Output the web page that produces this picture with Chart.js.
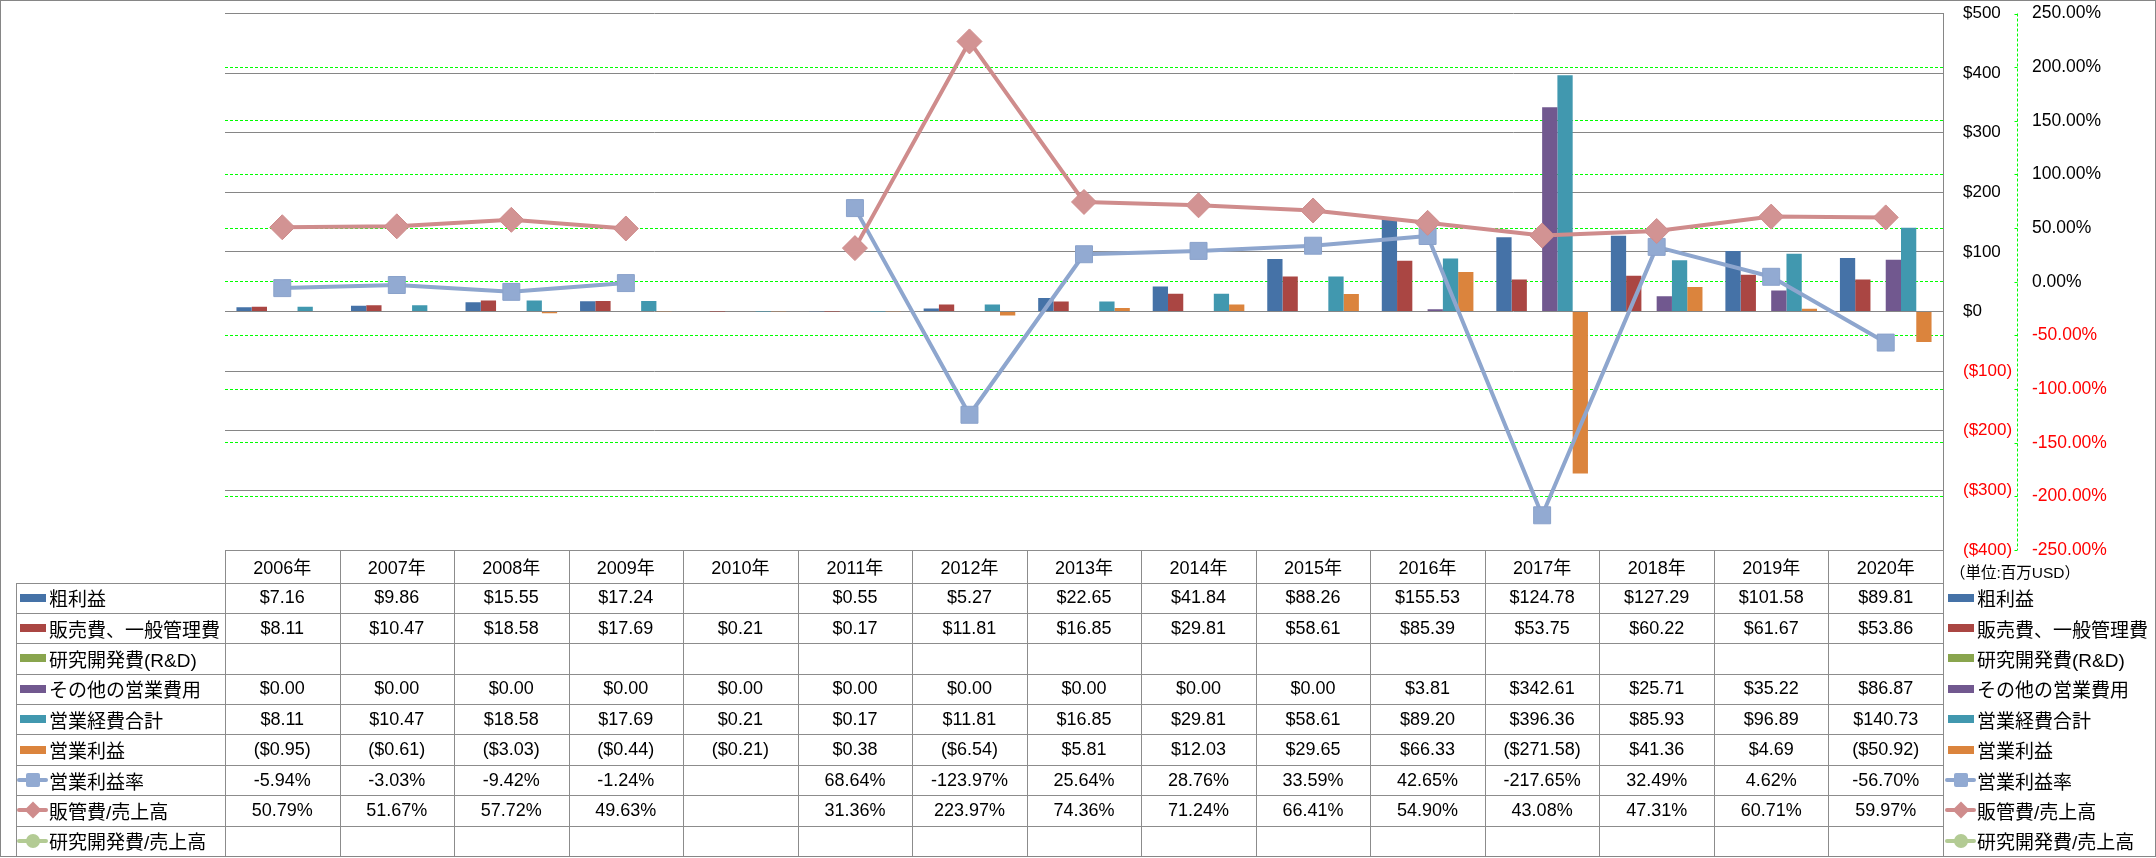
<!DOCTYPE html>
<html><head><meta charset="utf-8">
<script src="https://cdn.jsdelivr.net/npm/chart.js@4/dist/chart.umd.min.js"></script>
<style>
html,body{margin:0;padding:0;background:#fff;}
#wrap{position:relative;width:2156px;height:858px;overflow:hidden;background:#fff;}
#c{position:absolute;left:0;top:0;}
.frame{position:absolute;left:0;top:0;width:2156px;height:857px;box-sizing:border-box;border:1px solid #868686;pointer-events:none;}
.ln{position:absolute;background:#8c8c8c;}
.cell{position:absolute;display:flex;align-items:center;justify-content:center;font-family:"Liberation Sans","Noto Sans CJK JP",sans-serif;font-size:18px;color:#000;white-space:nowrap;}
.lab{position:absolute;display:flex;align-items:center;font-family:"Liberation Sans","Noto Sans CJK JP",sans-serif;font-size:19px;color:#000;white-space:nowrap;}
.key{position:absolute;}
</style></head><body>
<div id="wrap"><canvas id="c" width="2156" height="858"></canvas><div id="tbl"></div><div class="frame"></div></div>
<script>
// ---- data ----
const years = ['2006年','2007年','2008年','2009年','2010年','2011年','2012年','2013年','2014年','2015年','2016年','2017年','2018年','2019年','2020年'];
const grossProfit = [7.16, 9.86, 15.55, 17.24, null, 0.55, 5.27, 22.65, 41.84, 88.26, 155.53, 124.78, 127.29, 101.58, 89.81];
const sga = [8.11, 10.47, 18.58, 17.69, 0.21, 0.17, 11.81, 16.85, 29.81, 58.61, 85.39, 53.75, 60.22, 61.67, 53.86];
const rnd = [null, null, null, null, null, null, null, null, null, null, null, null, null, null, null];
const otherOpex = [0, 0, 0, 0, 0, 0, 0, 0, 0, 0, 3.81, 342.61, 25.71, 35.22, 86.87];
const totalOpex = [8.11, 10.47, 18.58, 17.69, 0.21, 0.17, 11.81, 16.85, 29.81, 58.61, 89.20, 396.36, 85.93, 96.89, 140.73];
const opIncome = [-0.95, -0.61, -3.03, -0.44, -0.21, 0.38, -6.54, 5.81, 12.03, 29.65, 66.33, -271.58, 41.36, 4.69, -50.92];
const opMargin = [-5.94, -3.03, -9.42, -1.24, null, 68.64, -123.97, 25.64, 28.76, 33.59, 42.65, -217.65, 32.49, 4.62, -56.70];
const sgaRatio = [50.79, 51.67, 57.72, 49.63, null, 31.36, 223.97, 74.36, 71.24, 66.41, 54.90, 43.08, 47.31, 60.71, 59.97];
const rndRatio = [null, null, null, null, null, null, null, null, null, null, null, null, null, null, null];
const moneyTicks = {min: -400, max: 500, step: 100};
const pctTicks = {min: -250, max: 250, step: 50};
const unitLabel = '（単位:百万USD）';

const C = {blue:'#4572A7', red:'#AA4643', green:'#89A54E', purple:'#71588F', teal:'#4198AF', orange:'#DB843D',
  lblue:'#8EA6CE', pink:'#CF8C8C', lgreen:'#B3CB94'};

const money = v => v == null ? '' : (v < 0 ? '($' + (-v).toFixed(2) + ')' : '$' + v.toFixed(2));
const pct = v => v == null ? '' : v.toFixed(2) + '%';

const rows = [
  {label:'粗利益', data:grossProfit, kind:'bar', color:C.blue, fmt:money},
  {label:'販売費、一般管理費', data:sga, kind:'bar', color:C.red, fmt:money},
  {label:'研究開発費(R&D)', data:rnd, kind:'bar', color:C.green, fmt:money},
  {label:'その他の営業費用', data:otherOpex, kind:'bar', color:C.purple, fmt:money},
  {label:'営業経費合計', data:totalOpex, kind:'bar', color:C.teal, fmt:money},
  {label:'営業利益', data:opIncome, kind:'bar', color:C.orange, fmt:money},
  {label:'営業利益率', data:opMargin, kind:'line', color:C.lblue, marker:'rect', fmt:pct},
  {label:'販管費/売上高', data:sgaRatio, kind:'line', color:C.pink, marker:'diamond', fmt:pct},
  {label:'研究開発費/売上高', data:rndRatio, kind:'line', color:C.lgreen, marker:'circle', fmt:pct}
];

const datasets = rows.map(r => {
  if (r.kind === 'bar') {
    return {type:'bar', label:r.label, data:r.data, backgroundColor:r.color, yAxisID:'y', order:3,
      categoryPercentage:0.8, barPercentage:1.0, borderWidth:0};
  }
  const ds = {type:'line', label:r.label, data:r.data, borderColor:r.color, borderWidth:4, yAxisID:'y1',
    spanGaps:false, tension:0, fill:false, borderJoinStyle:'round', borderCapStyle:'round',
    pointBackgroundColor:r.color, pointBorderColor:r.color, pointBorderWidth:1};
  if (r.marker === 'rect') { ds.pointStyle = 'rect'; ds.pointRadius = 12; ds.order = 1; ds.pointBackgroundColor = '#92AAD2'; ds.pointBorderColor = '#8AA2CB'; }
  else if (r.marker === 'diamond') { ds.pointStyle = 'rectRot'; ds.pointRadius = 12.5; ds.order = 0; ds.pointBackgroundColor = '#D29393'; }
  else { ds.pointStyle = 'circle'; ds.pointRadius = 8; ds.order = 2; }
  ds.pointHoverRadius = ds.pointRadius;
  return ds;
});

const axisLinePlugin = {
  id:'axisLine',
  afterDraw(chart) {
    const s = chart.scales.y1, ctx = chart.ctx;
    const x = Math.round(s.left) + 0.5;
    ctx.save();
    ctx.strokeStyle = '#00ff00'; ctx.lineWidth = 1; ctx.setLineDash([3, 2]);
    ctx.beginPath(); ctx.moveTo(x, s.top); ctx.lineTo(x, s.bottom); ctx.stroke();
    ctx.setLineDash([]);
    s.ticks.forEach(t => {
      const y = Math.round(s.getPixelForValue(t.value)) + 0.5;
      ctx.beginPath(); ctx.moveTo(x - 3, y); ctx.lineTo(x, y); ctx.stroke();
    });
    ctx.restore();
  }
};

const chart = new Chart(document.getElementById('c'), {
  type:'bar',
  data:{labels:years, datasets},
  options:{
    responsive:false, animation:false, devicePixelRatio:1,
    layout:{padding:{left:225, top:12.5, right:0, bottom:308}},
    plugins:{legend:{display:false}, tooltip:{enabled:false}},
    scales:{
      x:{type:'category', display:false, offset:true, grid:{display:false}},
      y:{position:'right', weight:1, min:moneyTicks.min, max:moneyTicks.max,
        ticks:{stepSize:moneyTicks.step, padding:0, color:c => c.tick.value < 0 ? '#ff0000' : '#000000',
          font:{family:'Liberation Sans', size:17},
          callback:v => v < 0 ? '($' + (-v) + ')' : '$' + v},
        grid:{color:'#868686', lineWidth:1, drawTicks:true, tickLength:20, tickColor:'rgba(0,0,0,0)'},
        border:{display:true, color:'#868686', width:1},
        afterFit(s){ s.width = 74; }},
      y1:{position:'right', weight:2, min:pctTicks.min, max:pctTicks.max,
        ticks:{stepSize:pctTicks.step, padding:0, color:c => c.tick.value < 0 ? '#ff0000' : '#000000',
          font:{family:'Liberation Sans', size:17.5},
          callback:v => v.toFixed(2) + '%'},
        grid:{color:c => (c.tick && Math.abs(c.tick.value) === pctTicks.max) ? 'rgba(0,0,0,0)' : '#00ff00',
          lineWidth:1, drawTicks:true, tickLength:15, tickColor:'rgba(0,0,0,0)', drawOnChartArea:true},
        border:{display:false, dash:[3, 2]},
        afterFit(s){ s.width = 139; }}
    }
  },
  plugins:[axisLinePlugin]
});

// ---- data table below the plot, aligned to the x scale ----
(function buildTable(){
  const tbl = document.getElementById('tbl');
  const ca = chart.chartArea, xs = chart.scales.x;
  const n = years.length;
  const colW = (ca.right - ca.left) / n;
  const headTop = ca.bottom, headBot = headTop + 32.5;
  const tableBottom = 856;
  const rowH = (tableBottom - headBot) / rows.length;
  const labLeft = 16;
  const add = (cls, css, text) => {
    const d = document.createElement('div'); d.className = cls;
    Object.assign(d.style, css); if (text != null) d.textContent = text; tbl.appendChild(d); return d;
  };
  const hline = (x1, x2, y) => add('ln', {left:x1 + 'px', top:(Math.round(y)) + 'px', width:(x2 - x1 + 1) + 'px', height:'1px'});
  const vline = (x, y1, y2) => add('ln', {left:Math.round(x) + 'px', top:y1 + 'px', width:'1px', height:(y2 - y1) + 'px'});

  hline(ca.left, ca.right, headTop);
  for (let i = 0; i < rows.length; i++) hline(labLeft, ca.right, headBot + i * rowH);
  vline(labLeft, headBot, tableBottom);
  for (let k = 0; k <= n; k++) vline(ca.left + k * colW, headTop, tableBottom);

  years.forEach((y, i) => {
    const cx = xs.getPixelForValue(i);
    add('cell', {left:(cx - colW / 2) + 'px', top:headTop + 'px', width:colW + 'px', height:(headBot - headTop) + 'px'}, y);
  });

  const drawKey = (r, x, yc) => {
    if (r.kind === 'bar') {
      add('key', {left:x + 'px', top:(yc - 4) + 'px', width:'26px', height:'8px', background:r.color});
    } else {
      add('key', {left:(x - 3) + 'px', top:(yc - 2) + 'px', width:'31px', height:'4px', background:r.color, borderRadius:'2px'});
      const m = {left:(x + 12.5 - 7) + 'px', top:(yc - 7) + 'px', width:'14px', height:'14px', background:r.color};
      if (r.marker === 'diamond') { m.width = '12px'; m.height = '12px'; m.left = (x + 12.5 - 6) + 'px'; m.top = (yc - 6) + 'px'; m.transform = 'rotate(45deg)'; }
      if (r.marker === 'circle') { m.borderRadius = '50%'; }
      if (r.marker === 'rect') { m.borderRadius = '2px'; m.background = '#92AAD2'; }
      add('key', m);
    }
  };

  rows.forEach((r, ri) => {
    const top = headBot + ri * rowH, yc = top + rowH / 2;
    drawKey(r, 20, yc);
    add('lab', {left:'49px', top:top + 'px', height:rowH + 'px'}, r.label);
    drawKey(r, 1948, yc);
    add('lab', {left:'1977px', top:top + 'px', height:rowH + 'px'}, r.label);
    r.data.forEach((v, i) => {
      const cx = xs.getPixelForValue(i);
      add('cell', {left:(cx - colW / 2) + 'px', top:top + 'px', width:colW + 'px', height:rowH + 'px'}, r.fmt(v));
    });
  });

  add('lab', {left:'1950px', top:(headTop + 8) + 'px', height:'26px', fontSize:'15.5px'}, unitLabel);
})();
</script>
</body></html>
